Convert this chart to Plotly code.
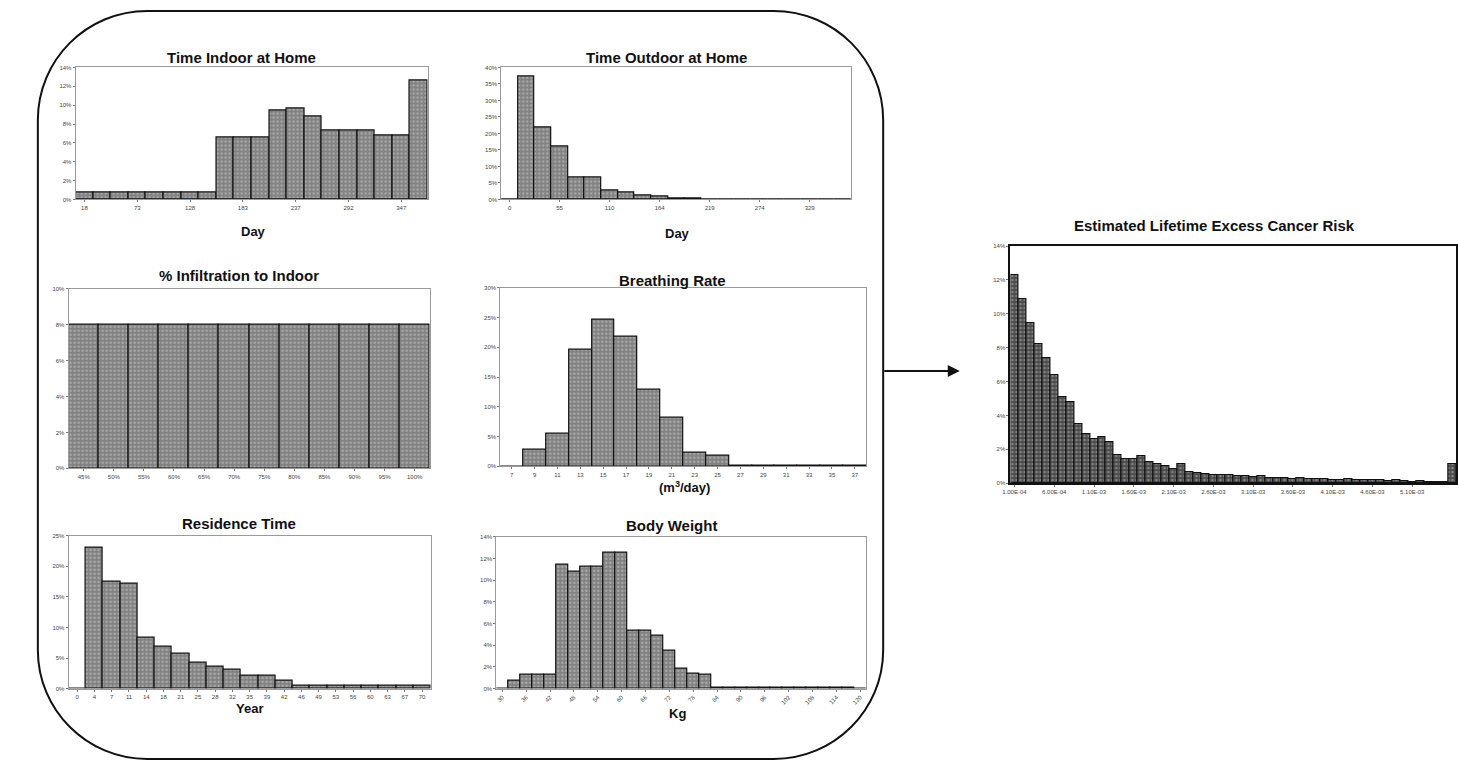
import plotly.graph_objects as go

W, H = 1458, 765

# ---------------- data ----------------
indoor_days = ["18", "37", "55", "73", "92", "110", "128", "146", "165", "183",
               "201", "219", "237", "256", "274", "292", "311", "329", "347", "365"]
indoor_pct = [0.7, 0.7, 0.7, 0.7, 0.7, 0.7, 0.7, 0.7, 6.6, 6.6,
              6.6, 9.4, 9.6, 8.8, 7.35, 7.35, 7.35, 6.8, 6.8, 12.6]

outdoor_days = ["0", "18", "37", "55", "73", "92", "110", "128", "146", "164", "183",
                "201", "219", "237", "256", "274", "292", "311", "329", "347", "365"]
outdoor_pct = [0, 37.2, 21.8, 16.2, 6.7, 6.7, 2.8, 2.0, 1.3, 0.9, 0.4,
               0.2, 0.1, 0.1, 0.1, 0.1, 0.1, 0.1, 0.1, 0, 0]

infil_cats = ["45%", "50%", "55%", "60%", "65%", "70%", "75%", "80%", "85%", "90%", "95%", "100%"]
infil_pct = [8.0, 8.0, 8.0, 8.0, 8.0, 8.0, 8.0, 8.0, 8.0, 8.0, 8.0, 8.0]

breath_cats = ["7", "9", "11", "13", "15", "17", "19", "21", "23", "25", "27", "29", "31", "33", "35", "37"]
breath_pct = [0, 2.8, 5.4, 19.6, 24.7, 21.8, 12.9, 8.1, 2.2, 1.8, 0.1, 0.1, 0.1, 0.1, 0.1, 0.1]

resid_years = ["0", "4", "7", "11", "14", "18", "21", "25", "28", "32", "35",
               "39", "42", "46", "49", "53", "56", "60", "63", "67", "70"]
resid_pct = [0, 23.1, 17.5, 17.2, 8.3, 6.8, 5.7, 4.2, 3.5, 3.0, 2.1,
             2.1, 1.3, 0.5, 0.5, 0.5, 0.5, 0.5, 0.5, 0.5, 0.5]

weight_kg = ["30", "33", "36", "39", "42", "45", "48", "51", "54", "57", "60",
             "63", "66", "69", "72", "75", "78", "81", "84", "87", "90",
             "93", "96", "99", "102", "105", "108", "111", "114", "117", "120"]
weight_pct = [0, 0.76, 1.3, 1.3, 1.3, 11.4, 10.8, 11.25, 11.25, 12.5, 12.5,
              5.35, 5.35, 4.9, 3.45, 1.8, 1.4, 1.3, 0.05, 0.05, 0.05,
              0.05, 0.05, 0.05, 0.05, 0.05, 0.05, 0.05, 0.05, 0.05, 0]

risk_bins = ["%.2E" % ((i + 1) * 1e-4) for i in range(56)]
risk_pct = [12.3, 10.9, 9.45, 8.2, 7.4, 6.4, 5.1, 4.8, 3.5, 2.9,
            2.6, 2.75, 2.4, 1.65, 1.4, 1.45, 1.6, 1.25, 1.15, 1.0,
            0.85, 1.15, 0.65, 0.6, 0.55, 0.5, 0.5, 0.5, 0.42, 0.42,
            0.35, 0.45, 0.33, 0.28, 0.33, 0.25, 0.3, 0.22, 0.22, 0.26,
            0.2, 0.2, 0.22, 0.2, 0.16, 0.16, 0.16, 0.14, 0.17, 0.14,
            0.08, 0.1, 0.08, 0.08, 0.06, 1.15]
risk_ticks = risk_bins[0:55:5]

# ---------------- layout helpers ----------------
def dx(x0, x1):
    return [x0 / W, x1 / W]

def dy(y0, y1):
    return [1 - y1 / H, 1 - y0 / H]

FONT = "Liberation Sans, Arial, sans-serif"

panels = [
    dict(c=indoor_days, v=indoor_pct, ticks=indoor_days[::3], box=(68, 422, 65, 198), ymax=14, dt=2,
         title="Time Indoor at Home", tpos=(235, 55), xt="Day", xtpos=(247, 230)),
    dict(c=outdoor_days, v=outdoor_pct, ticks=outdoor_days[::3], box=(496, 848, 65, 198), ymax=40, dt=5,
         title="Time Outdoor at Home", tpos=(662, 55), xt="Day", xtpos=(673, 232)),
    dict(c=infil_cats, v=infil_pct, ticks=infil_cats, box=(61, 424, 288, 469), ymax=10, dt=2,
         title="% Infiltration to Indoor", tpos=(232, 275), xt=None),
    dict(c=breath_cats, v=breath_pct, ticks=breath_cats, box=(495, 863, 287, 467), ymax=30, dt=5,
         title="Breathing Rate", tpos=(668, 280), xt="(m<sup>3</sup>/day)", xtpos=(680, 488)),
    dict(c=resid_years, v=resid_pct, ticks=resid_years, box=(61, 425, 537, 691), ymax=25, dt=5,
         title="Residence Time", tpos=(232, 525), xt="Year", xtpos=(243, 711)),
    dict(c=weight_kg, v=weight_pct, ticks=weight_kg[::2], box=(491, 863, 538, 691), ymax=14, dt=2,
         title="Body Weight", tpos=(667, 527), xt="Kg", xtpos=(673, 716), angle=-45),
    dict(c=risk_bins, v=risk_pct, ticks=risk_ticks, box=(1008, 1456, 245, 484), ymax=14, dt=2,
         title="Estimated Lifetime Excess Cancer Risk", tpos=(1213, 224), xt=None, dark=True),
]

fig = go.Figure()
annotations = []
layout_axes = {}

for i, p in enumerate(panels, start=1):
    sfx = "" if i == 1 else str(i)
    dark = p.get("dark", False)
    fill = "#4a4a4a" if dark else "#808080"
    dots = "#bdbdbd" if dark else "#d2d2d2"
    fig.add_trace(go.Bar(
        x=p["c"], y=p["v"], xaxis="x" + sfx, yaxis="y" + sfx,
        marker=dict(color=fill, line=dict(color="#111", width=1.2),
                    pattern=dict(shape=".", bgcolor=fill, fgcolor=dots, size=4, solidity=0.35)),
        showlegend=False, hoverinfo="x+y",
    ))
    x0, x1, y0, y1 = p["box"]
    lc = "#111" if dark else "#9a9a9a"
    lw = 2 if dark else 1
    layout_axes["xaxis" + sfx] = dict(
        domain=dx(x0, x1), anchor="y" + sfx, type="category",
        tickmode="array", tickvals=p["ticks"], ticktext=p["ticks"],
        tickfont=dict(size=6, color="#444", family=FONT), tickangle=p.get("angle", 0),
        showline=True, mirror=True, linecolor=lc, linewidth=lw,
        ticks="outside", ticklen=2, tickcolor="#777", showgrid=False, zeroline=False,
        fixedrange=True,
    )
    layout_axes["yaxis" + sfx] = dict(
        domain=dy(y0, y1), anchor="x" + sfx, range=[0, p["ymax"]], dtick=p["dt"],
        ticksuffix="%", tickfont=dict(size=6, color="#444", family=FONT),
        showline=True, mirror=True, linecolor=lc, linewidth=lw,
        ticks="outside", ticklen=2, tickcolor="#777", showgrid=False, zeroline=False,
        fixedrange=True,
    )
    tx, ty = p["tpos"]
    annotations.append(dict(x=tx / W, y=1 - ty / H, xref="paper", yref="paper",
                            text="<b>%s</b>" % p["title"], showarrow=False,
                            xanchor="center", yanchor="middle",
                            font=dict(size=15, color="#111", family=FONT)))
    if p.get("xt"):
        ax_, ay_ = p["xtpos"]
        annotations.append(dict(x=ax_ / W, y=1 - ay_ / H, xref="paper", yref="paper",
                                text="<b>%s</b>" % p["xt"], showarrow=False,
                                xanchor="center", yanchor="middle",
                                font=dict(size=13, color="#111", family=FONT)))

# arrow between the input panel and the result
annotations.append(dict(x=957 / W, y=1 - 371 / H, xref="paper", yref="paper",
                        ax=-77, ay=0, axref="pixel", ayref="pixel", text="",
                        showarrow=True, arrowhead=2, arrowsize=1.2, arrowwidth=2,
                        arrowcolor="#111"))

# rounded frame around the six input panels
L, R, T, B, r = 30, 880, 8, 762, 110
k = 0.5523 * r
def P(x, y):
    return "%.5f,%.5f" % (x / W, 1 - y / H)
path = ("M " + P(L + r, T) + " L " + P(R - r, T) +
        " C " + P(R - r + k, T) + " " + P(R, T + r - k) + " " + P(R, T + r) +
        " L " + P(R, B - r) +
        " C " + P(R, B - r + k) + " " + P(R - r + k, B) + " " + P(R - r, B) +
        " L " + P(L + r, B) +
        " C " + P(L + r - k, B) + " " + P(L, B - r + k) + " " + P(L, B - r) +
        " L " + P(L, T + r) +
        " C " + P(L, T + r - k) + " " + P(L + r - k, T) + " " + P(L + r, T) + " Z")

fig.update_layout(
    width=W, height=H, margin=dict(l=0, r=0, t=0, b=0),
    paper_bgcolor="white", plot_bgcolor="white",
    bargap=0, showlegend=False,
    annotations=annotations,
    shapes=[dict(type="path", path=path, xref="paper", yref="paper",
                 line=dict(color="#111", width=2), fillcolor="rgba(0,0,0,0)", layer="below")],
    font=dict(family=FONT),
    **layout_axes,
)

fig.write_html("out.html")
